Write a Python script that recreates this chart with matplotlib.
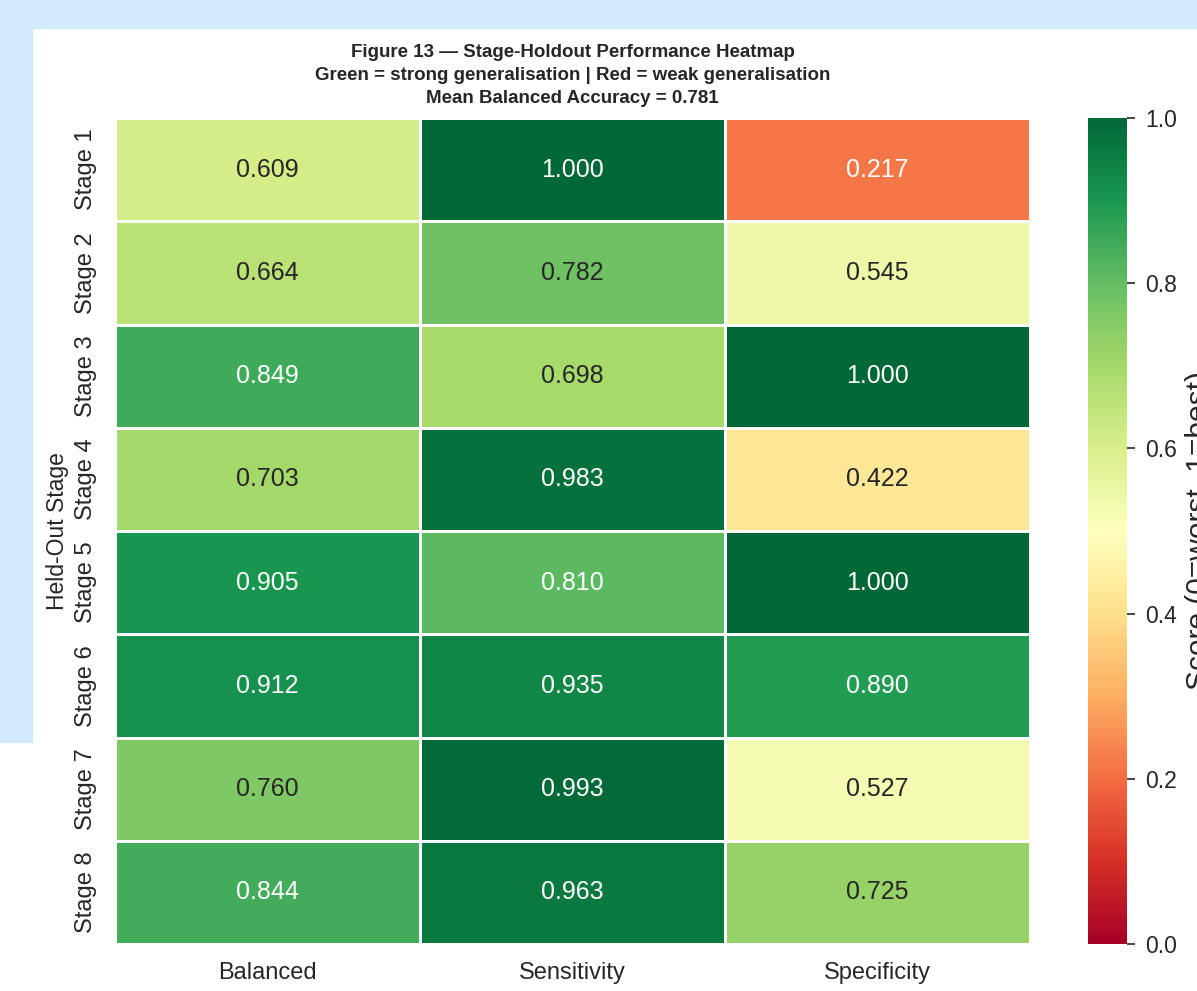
import matplotlib.pyplot as plt
import numpy as np
import pandas as pd
import seaborn as sns
from matplotlib.patches import Rectangle

sns.set_theme(style="white")
plt.rcParams['font.family'] = ['Liberation Sans', 'DejaVu Sans']

stages = ['Stage 1', 'Stage 2', 'Stage 3', 'Stage 4', 'Stage 5', 'Stage 6', 'Stage 7', 'Stage 8']
balanced = [0.609, 0.664, 0.849, 0.703, 0.905, 0.912, 0.760, 0.844]
sensitivity = [1.000, 0.782, 0.698, 0.983, 0.810, 0.935, 0.993, 0.963]
specificity = [0.217, 0.545, 1.000, 0.422, 1.000, 0.890, 0.527, 0.725]

df = pd.DataFrame({'Balanced': balanced, 'Sensitivity': sensitivity,
                   'Specificity': specificity}, index=stages)
mean_bal = np.mean(balanced)

W, H = 1197, 991
fig = plt.figure(figsize=(W / 100, H / 100), dpi=100)

# light blue page panel behind the figure
fig.patches.append(Rectangle((0, 1 - 28 / H), 1, 28 / H, transform=fig.transFigure,
                             color='#d2ebfc', zorder=-10))
fig.patches.append(Rectangle((0, 1 - 742 / H), 32 / W, 742 / H, transform=fig.transFigure,
                             color='#d2ebfc', zorder=-10))

ax = fig.add_axes([115 / W, 1 - 944 / H, (1030 - 115) / W, (944 - 118) / H])
cax = fig.add_axes([1088 / W, 1 - 944 / H, 39 / W, (944 - 118) / H])

sns.heatmap(df, ax=ax, cbar_ax=cax, cmap='RdYlGn', vmin=0, vmax=1,
            annot=True, fmt='.3f', annot_kws={'size': 18},
            linewidths=2, linecolor='white')

ax.set_title('Figure 13 \u2014 Stage-Holdout Performance Heatmap\n'
             'Green = strong generalisation | Red = weak generalisation\n'
             f'Mean Balanced Accuracy = {mean_bal:.3f}',
             fontsize=13.5, fontweight='bold', pad=11, linespacing=1.45)
ax.set_ylabel('Held-Out Stage', fontsize=16.5)
ax.tick_params(axis='both', length=0, pad=13, labelsize=17)
ax.set_yticklabels(stages, rotation=90, va='center')

cbar = ax.collections[0].colorbar
cbar.ax.tick_params(length=6, width=1.2, color='#262626', labelsize=16.5, pad=7)
cbar.set_label('Score (0=worst, 1=best)', fontsize=21.5, labelpad=6)

fig.savefig('out.png', dpi=100)
